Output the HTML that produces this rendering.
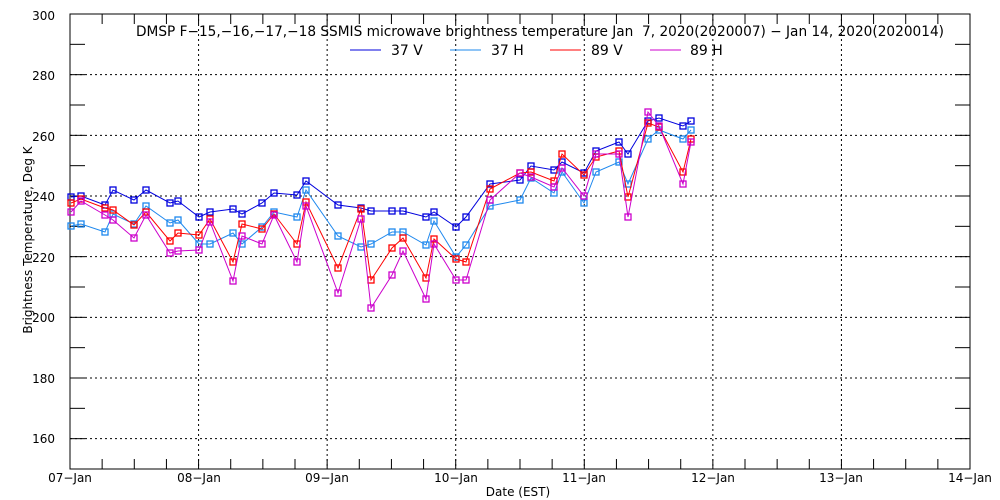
<!DOCTYPE html>
<html><head><meta charset="utf-8"><style>
html,body{margin:0;padding:0;background:#fff;}
svg{display:block;font-family:"DejaVu Sans","Liberation Sans",sans-serif;}
</style></head><body>
<svg id="s" width="1000" height="500" viewBox="0 0 1000 500" xmlns="http://www.w3.org/2000/svg">
<rect width="1000" height="500" fill="#fff"/>
<g id="grid" stroke="#000" stroke-width="1" stroke-dasharray="2,3" fill="none"></g>
<g id="axes" stroke="#000" stroke-width="1" fill="none"></g>
<g id="data"></g>
<g font-size="12" fill="#000">
<text x="55" y="20" text-anchor="end">300</text>
<text x="55" y="80" text-anchor="end">280</text>
<text x="55" y="141" text-anchor="end">260</text>
<text x="55" y="201" text-anchor="end">240</text>
<text x="55" y="262" text-anchor="end">220</text>
<text x="55" y="322" text-anchor="end">200</text>
<text x="55" y="383" text-anchor="end">180</text>
<text x="55" y="443" text-anchor="end">160</text>
<text x="70" y="482" text-anchor="middle">07−Jan</text>
<text x="199" y="482" text-anchor="middle">08−Jan</text>
<text x="327" y="482" text-anchor="middle">09−Jan</text>
<text x="456" y="482" text-anchor="middle">10−Jan</text>
<text x="584" y="482" text-anchor="middle">11−Jan</text>
<text x="713" y="482" text-anchor="middle">12−Jan</text>
<text x="841" y="482" text-anchor="middle">13−Jan</text>
<text x="970" y="482" text-anchor="middle">14−Jan</text>
<text x="518" y="496" text-anchor="middle">Date (EST)</text>
<text transform="translate(32,240) rotate(-90)" text-anchor="middle">Brightness Temperature, Deg K</text>
</g>
<g font-size="14" fill="#000">
<text x="136" y="36" textLength="808" lengthAdjust="spacingAndGlyphs">DMSP F−15,−16,−17,−18 SSMIS microwave brightness temperature Jan &#160;7, 2020(2020007) − Jan 14, 2020(2020014)</text>
<line x1="350" y1="50" x2="381" y2="50" stroke="#0000dd"/><text x="391" y="55">37 V</text>
<line x1="450" y1="50" x2="481" y2="50" stroke="#1e88ee"/><text x="491" y="55">37 H</text>
<line x1="550" y1="50" x2="581" y2="50" stroke="#ff0000"/><text x="591" y="55">89 V</text>
<line x1="650" y1="50" x2="681" y2="50" stroke="#cc00cc"/><text x="690" y="55">89 H</text>
</g>
</svg>
<script>
var NS="http://www.w3.org/2000/svg";
function el(p,t,a){var e=document.createElementNS(NS,t);for(var k in a)e.setAttribute(k,a[k]);p.appendChild(e);return e;}
var L=70,R=970,T=14,B=469;
function Y(v){return T+(300-v)*(B-T)/150;}
var g=document.getElementById('grid'),ax=document.getElementById('axes');
for(var v=160;v<=280;v+=20)el(g,'line',{x1:L,x2:R,y1:Y(v),y2:Y(v)});
for(var d=1;d<7;d++){var x=L+d*(R-L)/7;el(g,'line',{x1:x,x2:x,y1:T,y2:B});}
el(ax,'rect',{x:L,y:T,width:R-L,height:B-T});
for(var v=150;v<=300;v+=10){var y=Y(v);el(ax,'line',{x1:L,x2:L+15,y1:y,y2:y});el(ax,'line',{x1:R-15,x2:R,y1:y,y2:y});}
for(var q=1;q<28;q++){var x=L+q*(R-L)/28;el(ax,'line',{x1:x,x2:x,y1:B,y2:B-10});el(ax,'line',{x1:x,x2:x,y1:T,y2:T+10});}
var xs=[71,81,105,113,134,146,170,178,199,210,233,242,262,274,297,306,338,361,371,392,403,426,434,456,466,490,520,531,554,562,584,596,619,628,648,659,683,691];
var S=[
["#0000dd",[197,196,205,190,200,190,203,201,217,212,209,214,203,193,195,181,205,208,211,211,211,217,212,227,217,184,180,166,170,162,173,151,142,154,121,118,126,121]],
["#1e88ee",[226,224,232,214,224,206,223,220,244,244,233,244,227,212,217,190,236,247,244,232,232,245,221,257,245,206,200,178,193,172,203,172,162,184,139,130,139,130]],
["#ff0000",[203,199,208,210,225,212,241,233,235,219,262,224,229,214,244,202,268,209,280,248,238,278,239,259,262,189,173,172,181,154,175,157,151,197,123,127,172,139]],
["#cc00cc",[212,201,215,220,238,215,253,251,250,222,281,236,244,215,262,206,293,219,308,275,251,299,244,280,280,200,173,177,187,168,196,154,154,217,112,126,184,142]]];
var dg=document.getElementById('data');
[0,1,2,3].forEach(function(i){var c=S[i][0],ys=S[i][1];
var pts=xs.map(function(x,j){return x+","+ys[j];}).join(" ");
el(dg,'polyline',{points:pts,fill:"none",stroke:c,"stroke-width":1});
xs.forEach(function(x,j){el(dg,'rect',{x:x-3,y:ys[j]-3,width:6,height:6,fill:"none",stroke:c,"stroke-width":1.3});});
});
</script>
</body></html>
